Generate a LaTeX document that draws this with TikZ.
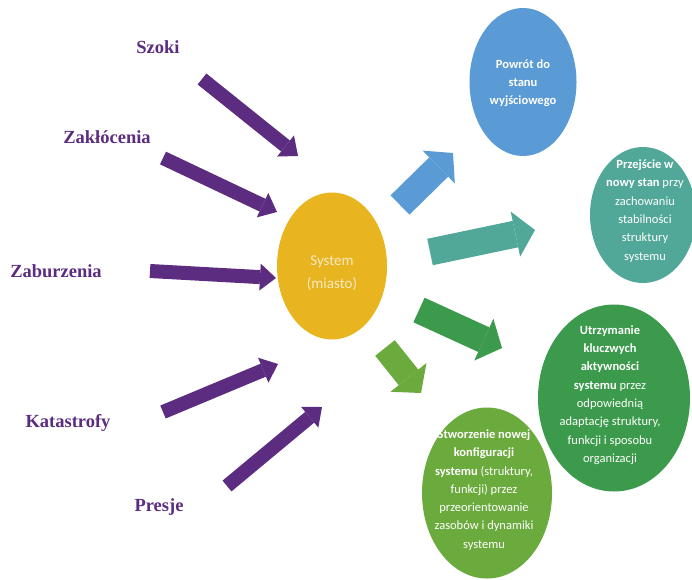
\documentclass[tikz,border=0pt]{standalone}
\usepackage{fontspec}
\setmainfont{Liberation Serif}
\newfontfamily\carlito{Carlito}
\usetikzlibrary{arrows.meta,shapes.geometric}
\definecolor{cpurple}{HTML}{5B2C7F}
\definecolor{cgold}{HTML}{E8B41F}
\definecolor{cblue}{HTML}{5B9BD5}
\definecolor{cteal}{HTML}{52A898}
\definecolor{cdkgreen}{HTML}{3B9A4B}
\definecolor{cltgreen}{HTML}{6BAA3C}
\definecolor{ccream}{HTML}{F6E9C4}

\begin{document}
\begin{tikzpicture}[x=1pt, y=-1pt,
    bubble/.style={ellipse, inner sep=0pt},
    btext/.style={align=center, text=white, font=\carlito\fontsize{12.5}{18.3}\selectfont},
    cause/.style={anchor=base, text=cpurple, font=\bfseries\fontsize{18.5}{22}\selectfont},
    inarrow/.style={line width=14pt, cpurple, -{Triangle[width=27pt,length=16pt,line width=0pt]}},
    outarrow/.style={line width=27pt, -{Triangle[width=46pt,length=20pt,line width=0pt]}}
]
\useasboundingbox (0,0) rectangle (692,579);

% Centre
\node[bubble, fill=cgold, minimum width=110pt, minimum height=147pt] (system) at (332,266) {};
\node[align=center, text=ccream, font=\carlito\fontsize{15}{23}\selectfont] (system-t) at (332,273) {System\\(miasto)};

% Causes
\node[cause] (szoki) at (158,53) {Szoki};
\node[cause] (zaklocenia) at (107,143) {Zakłócenia};
\node[cause] (zaburzenia) at (56,277) {Zaburzenia};
\node[cause] (katastrofy) at (68,427) {Katastrofy};
\node[cause] (presje) at (159,511) {Presje};

\coordinate (szA) at (202,79);  \coordinate (szB) at (298,156);
\coordinate (zkA) at (163,158); \coordinate (zkB) at (277,212);
\coordinate (zbA) at (150,271); \coordinate (zbB) at (276,278);
\coordinate (ktA) at (163,412); \coordinate (ktB) at (278,364);
\coordinate (prA) at (227,486); \coordinate (prB) at (322,407);

\draw[inarrow] (szA) -- (szB);
\draw[inarrow] (zkA) -- (zkB);
\draw[inarrow] (zbA) -- (zbB);
\draw[inarrow] (ktA) -- (ktB);
\draw[inarrow] (prA) -- (prB);

% Outcomes
\node[bubble, fill=cblue, minimum width=107pt, minimum height=148pt] (powrot) at (523,82) {};
\node[btext] (powrot-t) at (523,83) {\textbf{Powrót do}\\\textbf{stanu}\\\textbf{wyjściowego}};

\node[bubble, fill=cteal, minimum width=106pt, minimum height=136pt] (przejscie) at (643,215) {};
\node[btext] (przejscie-t) at (645,211) {\textbf{Przejście w}\\\textbf{nowy stan} przy\\zachowaniu\\stabilności\\struktury\\systemu};

\node[bubble, fill=cdkgreen, minimum width=152pt, minimum height=187pt] (utrzymanie) at (614,398) {};
\node[btext] (utrzymanie-t) at (610,395) {\textbf{Utrzymanie}\\\textbf{kluczwych}\\\textbf{aktywności}\\\textbf{systemu} przez\\odpowiednią\\adaptację struktury,\\funkcji i sposobu\\organizacji};

\node[bubble, fill=cltgreen, minimum width=130pt, minimum height=171pt] (stworzenie) at (487,493) {};
\node[btext] (stworzenie-t) at (484,490) {\textbf{Stworzenie nowej}\\\textbf{konfiguracji}\\\textbf{systemu} (struktury,\\funkcji) przez\\przeorientowanie\\zasobów i dynamiki\\systemu};

\coordinate (pwA) at (400,205); \coordinate (pwB) at (453,153);
\coordinate (prjA) at (430,252); \coordinate (prjB) at (535,230);
\coordinate (utA) at (419,310); \coordinate (utB) at (502,348);
\coordinate (stA) at (385,348); \coordinate (stB) at (421,393);

\draw[outarrow, cblue] (pwA) -- (pwB);
\draw[outarrow, cteal] (prjA) -- (prjB);
\draw[outarrow, cdkgreen] (utA) -- (utB);
\draw[outarrow, cltgreen, line width=25pt] (stA) -- (stB);

\end{tikzpicture}
\end{document}
